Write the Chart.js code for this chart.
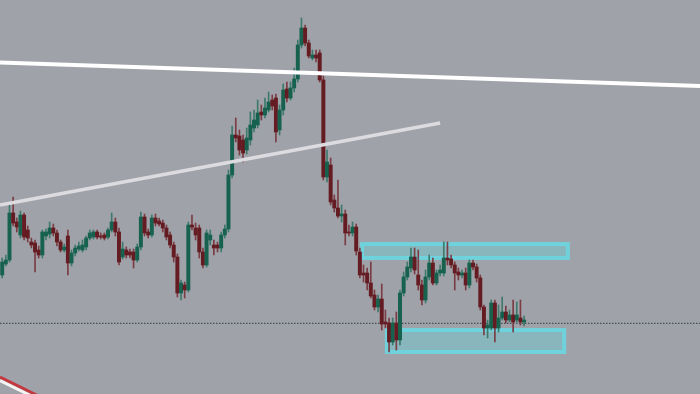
<!DOCTYPE html>
<html>
<head>
<meta charset="utf-8">
<script src="https://cdn.jsdelivr.net/npm/chart.js@4.4.1/dist/chart.umd.min.js"></script>
<style>
  html, body { margin: 0; padding: 0; background: #a0a2a9; }
  canvas { display: block; }
</style>
</head>
<body>
<canvas id="chart" width="700" height="394"></canvas>
<script>
// OHLC per candle (arbitrary price units)
const opens = [125,136,140,187,178,165,185,170,158,157,150,145,164,166,172,167,158,150,164,137,
  147,151,150,153,162,163,168,164,165,163,170,178,168,143,150,148,148,140,153,183,
  168,165,182,179,177,172,165,155,143,107,115,110,175,172,172,148,135,160,155,155,
  152,165,171,225,265,264,260,250,260,272,275,288,285,290,300,302,270,290,311,302,
  312,321,355,372,357,342,345,347,320,223,235,200,192,184,186,168,167,173,148,127,
  127,117,105,93,101,78,77,58,77,60,107,123,132,143,125,115,100,123,137,117,
  127,127,142,141,135,128,125,127,115,137,133,122,93,72,72,97,72,82,88,80,
  85,80,82,78];
const closes = [138,140,187,177,173,185,163,162,155,148,145,168,168,172,167,158,150,153,137,147,
  152,154,155,162,167,168,163,163,162,170,178,168,138,151,145,145,140,153,183,167,
  165,182,177,176,172,163,155,143,107,117,110,175,173,165,148,135,167,165,152,152,
  165,171,225,265,262,250,247,262,275,280,287,285,292,298,294,268,290,310,302,312,
  321,355,372,357,344,345,342,320,223,238,198,192,184,186,167,167,173,149,125,125,
  117,104,93,101,76,76,58,77,60,107,123,133,143,130,115,100,123,137,117,127,
  130,142,140,135,127,125,127,115,137,133,122,93,72,75,97,72,82,88,80,85,
  78,85,78,80];
const highs = [142,145,195,203,182,189,187,174,162,160,154,170,171,178,176,170,160,156,170,150,
  155,158,160,164,170,170,170,167,167,172,187,182,172,158,153,151,151,156,188,186,
  171,185,186,182,180,175,168,158,146,120,118,178,185,177,175,152,170,170,160,158,
  168,175,230,274,282,270,265,272,288,290,300,295,302,308,305,306,295,316,318,318,
  332,360,382,375,360,350,350,350,324,250,242,205,220,195,190,175,178,176,152,135,
  132,138,110,105,116,90,82,82,88,110,128,138,152,152,150,120,130,145,142,130,
  135,158,158,145,138,132,130,132,140,140,136,125,95,80,100,100,95,103,94,90,
  100,98,100,84];
const lows = [122,134,138,174,168,162,160,158,152,128,142,142,160,162,164,154,148,148,125,134,
  144,149,148,150,160,161,161,161,160,161,168,164,135,141,142,142,132,138,150,164,
  162,163,174,174,168,160,152,138,103,100,102,108,170,160,142,132,133,155,145,148,
  148,162,168,222,258,245,238,246,255,268,272,280,282,288,290,258,265,285,298,300,
  308,318,352,354,342,340,338,318,220,218,195,188,182,178,155,164,164,145,122,118,
  110,102,90,88,70,72,48,55,50,55,104,120,128,126,110,95,97,120,115,115,
  124,124,135,132,110,120,122,110,112,130,118,90,65,62,70,58,68,80,77,78,
  68,78,75,74];

// drawn lines: [x, price] end points
const upperLine = [[-0.6, 337.5], [191.2, 314]];
const risingLine = [[-0.6, 195], [120, 277]];
const redLine = [[-0.6, 23], [10.5, 3]];
const redLineEdge = [[-0.6, 19.5], [10.5, -0.5]];
const levelLine = [[-0.6, 76.7], [191.2, 76.7]];

// zones: x from / to (candle index), price top / bottom
const zoneFrom = [98.6, 105.4];
const zoneTo = [155.0, 154.0];
const zoneTop = [156, 70];
const zoneBottom = [142, 48];

const upColor = '#17624f', downColor = '#641b21';
const upWick = '#3d7a6a', downWick = '#7a3d44';

const idx = opens.map((_, i) => i);
const isUp = i => closes[i] >= opens[i];

const toPoints = pts => pts.map(p => ({ x: p[0], y: p[1] }));

function lineSet(pts, color, width, order, dash) {
    return {
        type: 'line',
        data: toPoints(pts),
        borderColor: color,
        borderWidth: width,
        borderDash: dash || [],
        pointRadius: 0,
        fill: false,
        tension: 0,
        order: order
    };
}

// boxes behind the candles
const zonePlugin = {
    id: 'zones',
    beforeDatasetsDraw(chart) {
        const { ctx, scales: { x, y } } = chart;
        ctx.save();
        zoneFrom.forEach((from, k) => {
            const left = x.getPixelForValue(from);
            const right = x.getPixelForValue(zoneTo[k]);
            const top = y.getPixelForValue(zoneTop[k]);
            const bottom = y.getPixelForValue(zoneBottom[k]);
            ctx.fillStyle = 'rgba(100,212,222,0.38)';
            ctx.fillRect(left, top, right - left, bottom - top);
            ctx.strokeStyle = 'rgba(104,216,226,0.85)';
            ctx.lineWidth = 4;
            ctx.strokeRect(left, top, right - left, bottom - top);
        });
        ctx.restore();
    }
};

new Chart(document.getElementById('chart').getContext('2d'), {
    type: 'bar',
    data: {
        datasets: [
            lineSet(upperLine, '#ffffff', 4, 0),
            lineSet(risingLine, '#dcdce0', 3.5, 0),
            lineSet(redLineEdge, '#f4f4f4', 3, 0),
            lineSet(redLine, '#c4383f', 3, 0),
            {
                type: 'bar',
                data: idx.map(i => ({ x: i, y: [Math.min(opens[i], closes[i]), Math.max(opens[i], closes[i])] })),
                backgroundColor: idx.map(i => isUp(i) ? upColor : downColor),
                barThickness: 3.3,
                minBarLength: 1,
                grouped: false,
                order: 1
            },
            {
                type: 'bar',
                data: idx.map(i => ({ x: i, y: [lows[i], highs[i]] })),
                backgroundColor: idx.map(i => isUp(i) ? upWick : downWick),
                barThickness: 1,
                grouped: false,
                order: 2
            },
            lineSet(levelLine, '#2e3c3a', 1, 3, [1.5, 1.5])
        ]
    },
    options: {
        responsive: false,
        animation: false,
        devicePixelRatio: 1,
        layout: { padding: 0 },
        plugins: {
            legend: { display: false },
            tooltip: { enabled: false }
        },
        scales: {
            x: { type: 'linear', min: -0.6, max: 191.2, display: false, offset: false },
            y: { type: 'linear', min: 6, max: 400, display: false }
        }
    },
    plugins: [zonePlugin]
});
</script>
</body>
</html>
